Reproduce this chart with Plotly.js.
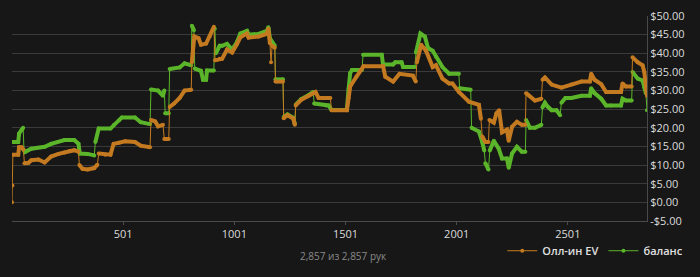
<!DOCTYPE html>
<html>
<head>
<meta charset="utf-8">
<script src="https://cdn.plot.ly/plotly-3.0.1.min.js"></script>
<style>
html,body{margin:0;padding:0;background:#171717;}
#chart{width:700px;height:277px;}
</style>
</head>
<body>
<div id="chart"></div>
<script>
// ---- data ----
const seriesNames = ["Олл-ин EV", "баланс"];

const handsEV = [1,3,5,29,33,44,52,57,75,88,120,148,177,210,237,260,281,300,304,318,341,371,385,391,420,444,458,483,510,554,580,622,626,645,658,680,686,706,710,730,755,777,807,810,821,840,851,874,890,909,914,935,946,968,991,1013,1028,1058,1065,1110,1147,1154,1161,1166,1171,1183,1186,1220,1223,1240,1266,1273,1277,1302,1332,1366,1380,1433,1438,1507,1515,1522,1550,1582,1670,1680,1715,1744,1804,1817,1822,1841,1863,1893,1908,1937,1967,1982,2011,2056,2101,2110,2116,2130,2144,2148,2168,2180,2192,2205,2227,2235,2250,2272,2294,2310,2313,2353,2382,2387,2398,2428,2472,2517,2562,2600,2606,2621,2651,2673,2695,2740,2747,2762,2788,2792,2815,2837,2845,2852,2857];
const allinEV = [0,4.5,12.8,12.8,14.8,14.8,14.2,10.5,10.6,11.3,11.5,10.7,12.3,13.0,13.4,13.8,14.0,13.6,10.0,9.0,8.8,9.2,10.1,13.1,12.8,12.8,15.7,16.0,16.4,16.2,15.2,14.8,22.1,21.7,20.4,20.8,17.0,17.0,25.6,26.5,28.0,30.0,30.2,37.6,44.5,44.0,42.3,42.6,44.5,47.1,38.1,38.5,38.5,41.0,40.2,42.5,44.3,45.3,44.2,44.5,45.2,46.6,42.7,37.6,42.0,41.5,32.4,32.4,22.6,23.4,22.5,20.8,26.0,27.5,28.5,29.6,28.0,28.0,24.7,24.7,28.0,31.1,33.7,36.5,36.5,33.7,32.4,34.5,34.0,32.4,37.6,42.3,40.7,36.3,36.8,33.2,31.9,31.9,29.6,27.0,26.2,22.4,17.7,16.2,16.2,22.1,21.4,23.9,24.7,18.8,19.5,16.5,20.3,21.6,20.8,20.8,29.3,27.3,27.8,32.9,33.5,31.6,30.8,31.6,32.4,32.4,34.5,32.9,31.7,29.6,29.6,29.6,31.9,31.1,31.1,38.9,37.6,36.8,35.0,31.0,28.6];

const handsBal = [1,29,33,44,51,55,59,88,148,177,237,281,300,306,341,371,376,391,444,460,483,495,554,580,622,626,658,680,686,690,706,710,755,777,807,810,819,823,851,860,874,878,909,913,918,935,946,968,991,1013,1028,1058,1065,1110,1147,1154,1161,1176,1183,1186,1220,1223,1240,1266,1273,1277,1302,1332,1356,1360,1414,1425,1438,1507,1515,1522,1530,1575,1580,1664,1670,1715,1725,1753,1760,1813,1818,1838,1858,1872,1893,1908,1937,1967,2011,2014,2064,2068,2101,2116,2125,2130,2144,2150,2168,2190,2205,2227,2235,2250,2272,2294,2310,2313,2330,2353,2382,2387,2398,2410,2428,2450,2466,2472,2490,2517,2562,2600,2606,2621,2651,2673,2695,2740,2747,2762,2788,2792,2815,2837,2845,2852,2857];
const balance = [16.2,16.2,18.5,19.5,20.0,14.0,13.5,14.4,14.9,15.7,16.7,16.7,15.7,13.1,13.0,12.6,16.2,19.8,19.8,20.8,22.0,22.8,22.8,21.5,21.0,30.3,30.0,28.6,30.0,23.9,23.9,35.8,36.2,37.3,36.8,47.4,46.2,35.9,35.3,32.9,32.9,35.4,35.4,46.6,40.0,42.0,42.0,42.5,41.0,43.0,45.3,46.0,45.0,45.2,46.0,47.0,44.0,42.5,42.0,33.0,33.0,22.9,23.6,22.7,21.0,26.2,27.7,28.7,29.6,26.5,26.0,26.0,24.8,24.8,30.5,34.7,35.5,35.5,39.6,39.6,37.0,37.0,37.6,37.6,36.3,36.3,40.2,45.3,44.5,41.4,40.7,39.1,36.3,34.5,34.5,30.6,30.2,20.0,19.0,16.2,13.9,10.5,8.8,13.9,16.5,14.4,11.8,11.8,9.3,13.1,14.9,13.6,13.6,22.1,20.0,20.0,20.8,25.5,26.7,25.7,24.7,24.7,23.4,26.7,28.0,28.0,28.6,28.6,30.6,29.3,27.8,26.0,26.0,26.0,27.8,27.3,27.3,35.0,33.2,32.7,30.9,29.3,24.7];

const xTickVals = [501, 1001, 1501, 2001, 2501];
const yTickVals = [-5, 0, 5, 10, 15, 20, 25, 30, 35, 40, 45, 50];
const yTickText = ["-$5.00","$0.00","$5.00","$10.00","$15.00","$20.00","$25.00","$30.00","$35.00","$40.00","$45.00","$50.00"];
const totalHands = 2857;
const footerText = "2,857 из 2,857 рук";

// ---- build traces ----
const orange = "#c47a20";
const green = "#5bb52a";

// thick body: break at single-hand jumps so they stay thin
function broken(xs, ys) {
  const bx = [], by = [];
  for (let i = 0; i < xs.length; i++) {
    if (i > 0 && (xs[i] - xs[i-1]) <= 6 && Math.abs(ys[i] - ys[i-1]) >= 3) {
      bx.push(null); by.push(null);
    }
    bx.push(xs[i]); by.push(ys[i]);
  }
  return {x: bx, y: by};
}

const bEV = broken(handsEV, allinEV);
const bBal = broken(handsBal, balance);

const traces = [
  {x: bBal.x, y: bBal.y, mode: "lines", line: {color: green, width: 4}, connectgaps: false, showlegend: false, hoverinfo: "skip"},
  {x: handsBal, y: balance, name: seriesNames[1], mode: "lines+markers", line: {color: green, width: 1}, marker: {color: green, size: 4}},
  {x: bEV.x, y: bEV.y, mode: "lines", line: {color: orange, width: 4}, connectgaps: false, showlegend: false, hoverinfo: "skip"},
  {x: handsEV, y: allinEV, name: seriesNames[0], mode: "lines+markers", line: {color: orange, width: 1}, marker: {color: orange, size: 4}}
];

const layout = {
  width: 700, height: 277,
  paper_bgcolor: "#171717", plot_bgcolor: "#171717",
  margin: {l: 12, r: 47, t: 16, b: 47},
  font: {family: "Open Sans, sans-serif", color: "#dcdcdc", size: 11},
  xaxis: {
    range: [1, totalHands], tickvals: xTickVals, showgrid: false, zeroline: false,
    showline: true, linecolor: "#4a4a4a", linewidth: 1,
    ticks: "outside", ticklen: 3, tickcolor: "#4a4a4a",
    tickfont: {size: 11, color: "#dcdcdc"}
  },
  yaxis: {
    range: [-5, 50], side: "right", tickvals: yTickVals, ticktext: yTickText,
    showgrid: true, gridcolor: "#3a3a3a", gridwidth: 1, zeroline: false,
    showline: true, linecolor: "#4a4a4a", linewidth: 1,
    tickfont: {size: 11, color: "#dcdcdc"}
  },
  showlegend: true,
  legend: {
    orientation: "h", traceorder: "reversed",
    x: 1.065, xanchor: "right", y: -0.145, yanchor: "middle",
    font: {size: 11, color: "#e0e0e0", weight: 600}, bgcolor: "rgba(0,0,0,0)",
    itemwidth: 30
  },
  annotations: [{
    text: footerText, xref: "paper", yref: "paper",
    x: 0.5226, y: -0.173, xanchor: "center", yanchor: "middle",
    showarrow: false, font: {size: 10, color: "#8a8a8a"}
  }]
};

Plotly.newPlot("chart", traces, layout, {displayModeBar: false, staticPlot: true});
</script>
</body>
</html>
